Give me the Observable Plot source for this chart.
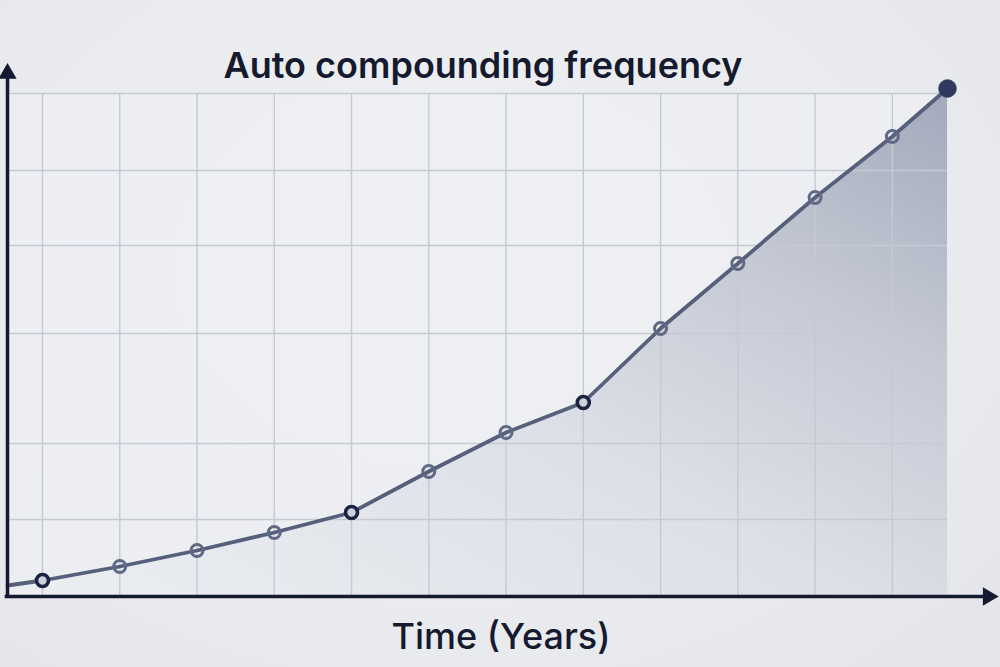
<!DOCTYPE html>
<html><head><meta charset="utf-8">
<script src="https://cdn.jsdelivr.net/npm/d3@7"></script>
<script src="https://cdn.jsdelivr.net/npm/@observablehq/plot@0.6"></script>
<style>
html,body{margin:0;padding:0;background:#e8eaee;}
#chart{width:1000px;height:667px;background:radial-gradient(ellipse at 45% 40%,#eef0f3 0%,#e9ebef 60%,#e3e5ea 100%);}
svg{display:block;}
</style>
</head><body><div id="chart"></div>
<script>
// ---- data ----
const years   = [0.547, 1, 2, 3, 4, 5, 6, 7, 8, 9, 10, 11, 12, 12.714];
const balance = [110, 160, 300, 460, 640, 840, 1250, 1640, 1940, 2680, 3330, 3990, 4600, 5080];
const markerKind = ["none", "dark", "light", "light", "light", "dark", "light", "light", "dark", "light", "light", "light", "light", "end"];
const gridYears  = [1, 2, 3, 4, 5, 6, 7, 8, 9, 10, 11, 12];
const gridValues = [770, 1530, 2630, 3510, 4260, 5030];
const titleText = "Auto compounding frequency";
const xLabelText = "Time (Years)";

// ---- build ----
const xMin = 0.547, xMax = 13.374, yMax = 5360;
const xLast = years[years.length - 1];
const gridTop = gridValues[gridValues.length - 1];
const pts = years.map((x, i) => ({x, y: balance[i], kind: markerKind[i]}));
const AXIS = "#141a30";

const svg = Plot.plot({
  width: 1000, height: 667,
  marginLeft: 7, marginRight: 2, marginTop: 60, marginBottom: 71,
  style: {background: "transparent", fontFamily: "Inter, Roboto, sans-serif", overflow: "visible"},
  x: {domain: [xMin, xMax], axis: null},
  y: {domain: [0, yMax], axis: null},
  marks: [
    Plot.rect([{}], {x1: xMin, x2: xLast, y1: 0, y2: gridTop, fill: "#eef0f4", fillOpacity: 0.7}),
    Plot.areaY(pts, {x: "x", y: "y", fill: "url(#areaGrad)"}),
    Plot.ruleX(gridYears, {x: d => d, y1: 0, y2: gridTop, stroke: "#c6c9d3", strokeWidth: 1.4}),
    Plot.ruleY(gridValues, {y: d => d, x1: xMin, x2: xLast, stroke: "#c6c9d3", strokeWidth: 1.4}),
    Plot.line(pts, {x: "x", y: "y", stroke: "#56607b", strokeWidth: 3.8, strokeLinejoin: "round"}),
    Plot.dot(pts.filter(d => d.kind === "light"), {x: "x", y: "y", r: 6, stroke: "#5f6985", strokeWidth: 3, fill: "none"}),
    Plot.dot(pts.filter(d => d.kind === "dark"), {x: "x", y: "y", r: 6, stroke: "#1c2340", strokeWidth: 3.6, fill: "#cdd1dc"}),
    Plot.dot(pts.filter(d => d.kind === "end"), {x: "x", y: "y", r: 9, fill: "#2f3a5e", stroke: "#2f3a5e", strokeWidth: 0.5}),
    // axes
    Plot.ruleX([xMin], {x: d => d, y1: 0, y2: 5200, stroke: AXIS, strokeWidth: 3.5}),
    Plot.ruleY([0], {y: d => d, x1: xMin - 0.03, x2: 13.25, stroke: AXIS, strokeWidth: 3.5}),
    Plot.dot([{x: xMin, y: 5230}], {x: "x", y: "y", symbol: "triangle", r: 6.8, fill: AXIS}),
    Plot.dot([{x: 13.24, y: 0}], {x: "x", y: "y", symbol: "triangle", r: 6.8, fill: AXIS, rotate: 90}),
    // texts
    Plot.text([titleText], {frameAnchor: "top", lineAnchor: "middle", dx: -20, dy: 5.5, fontSize: 36, fontWeight: 600, fill: "#151a2e", text: d => d}),
    Plot.text([xLabelText], {frameAnchor: "bottom", lineAnchor: "middle", dx: -2, dy: 40.5, fontSize: 36, fontWeight: 500, fill: "#151a2e", text: d => d})
  ]
});

const defs = d3.select(svg).insert("defs", ":first-child");
const g = defs.append("linearGradient").attr("id", "areaGrad")
  .attr("x1", 0).attr("y1", 1).attr("x2", 1).attr("y2", 0);
[[0, "#eceef2"], [0.45, "#dde0e7"], [0.72, "#c6cad5"], [1, "#a2a9bb"]].forEach(([o, c]) =>
  g.append("stop").attr("offset", o).attr("stop-color", c));

document.getElementById("chart").appendChild(svg);
</script>
</body></html>
